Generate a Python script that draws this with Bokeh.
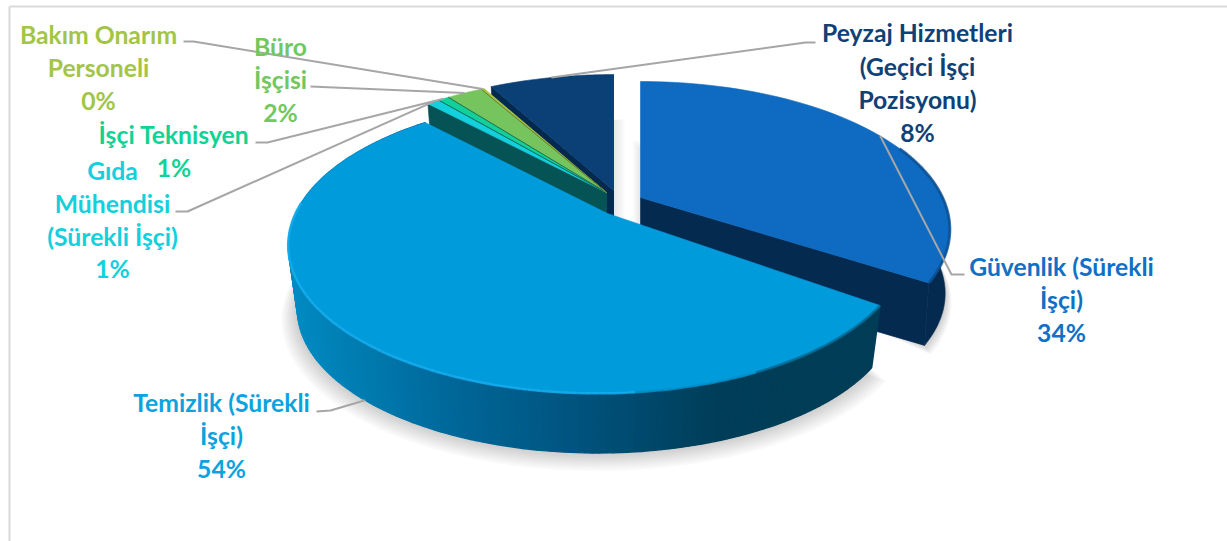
import math
from bokeh.plotting import figure
from bokeh.models import Range1d
from bokeh.core.properties import value
from bokeh.embed import file_html
from bokeh.resources import INLINE

# ---- data -------------------------------------------------------------
categories = ["Güvenlik (Sürekli İşçi)", "Temizlik (Sürekli İşçi)", "Gıda Mühendisi (Sürekli İşçi)",
              "İşçi Teknisyen", "Büro İşçisi", "Bakım Onarım Personeli", "Peyzaj Hizmetleri (Geçici İşçi Pozisyonu)"]
shares = [34, 54, 0.8, 0.7, 2.3, 0.2, 8]
label_lines = [
    ["Güvenlik (Sürekli", "İşçi)", "34%"],
    ["Temizlik (Sürekli", "İşçi)", "54%"],
    ["Gıda", "Mühendisi", "(Sürekli İşçi)", "1%"],
    ["İşçi Teknisyen", "1%"],
    ["Büro", "İşçisi", "2%"],
    ["Bakım Onarım", "Personeli", "0%"],
    ["Peyzaj Hizmetleri", "(Geçici İşçi", "Pozisyonu)", "8%"],
]

# ---- styles / layout ---------------------------------------------------
face = ["#0e6bc1", "#009bdb", "#14cfdc", "#13d09a", "#76c45e", "#a5c249", "#0a4076"]
wall = ["#052a50", "#003d56", "#065355", "#065355", "#0a5a50", "#5d6a1f", "#03294f"]
text_col = ["#1070c6", "#0ba2de", "#13d0dc", "#12d296", "#70c85f", "#a2c548", "#0f4176"]
apex = [(640, 197), (607, 213), (606, 192), (606, 192), (606, 192), (606, 192), (613, 190)]
rim_cx = [640, 597, 606, 606, 606, 606, 613]
view_adjust = [(0, 0), (2.5, 1.7), (0, 0), (0, 0), (0, 0), (0, 0), (0, 0)]  # perspective of the pulled-out slices
label_x = [1061, 221, 112, 173.5, 280, 98, 917]
label_y = [[266, 299, 332], [402, 435, 468], [170, 203, 236, 268], [134, 167],
           [46, 79, 112], [34, 67, 100], [32, 66, 99, 132]]
elbows = [[(951, 274), (964, 274)], [(330, 410), (316, 411)], [(187, 211), (175, 211)],
          [(267, 142), (255, 142)], [(310, 86)], [(193, 41), (183, 41)], [(805, 42), (815, 42)]]
R, S, K = 302.0, 141.0, 0.216   # perspective of the disc
H, SHRINK = 65.0, 0.97          # wall height, bottom-rim shrink
GUV_SHRINK = 0.985
STOPS = [(288, (0, 140, 195)), (450, (0, 104, 154)), (600, (0, 80, 121)), (720, (0, 61, 88)), (900, (0, 61, 86))]
FONT = value("Lato")

p = figure(width=1227, height=541, toolbar_location=None, output_backend="svg",
           x_range=Range1d(0, 1227), y_range=Range1d(541, 0),
           min_border=0, background_fill_color="white", border_fill_color="white")
p.axis.visible = False
p.grid.visible = False
p.outline_line_color = None


def hexc(c):
    return "#%02x%02x%02x" % tuple(int(round(v)) for v in c)


def grad(x):
    if x <= STOPS[0][0]:
        return hexc(STOPS[0][1])
    for (x0, c0), (x1, c1) in zip(STOPS, STOPS[1:]):
        if x <= x1:
            t = (x - x0) / (x1 - x0)
            return hexc([a + (b - a) * t for a, b in zip(c0, c1)])
    return hexc(STOPS[-1][1])


def rim(theta, i, bottom=False):
    a = math.radians(theta)
    X, Y = math.sin(a), -math.cos(a)
    w = 1 - K * Y
    dx, dy = R * X / w, S * Y / w
    if bottom:
        sh = GUV_SHRINK if i == 0 else SHRINK
        return rim_cx[i] + sh * dx, apex[i][1] + SHRINK * dy + H
    return rim_cx[i] + dx, apex[i][1] + dy


def arc(t0, t1, i, bottom=False, n=60):
    pts = [rim(t0 + (t1 - t0) * k / n, i, bottom) for k in range(n + 1)]
    return [q[0] for q in pts], [q[1] for q in pts]


def wedge(i):
    xs, ys = arc(span[i][0], span[i][1], i)
    return [apex[i][0]] + xs, [apex[i][1]] + ys


def radial_wall(i, theta):
    x0, y0 = rim(theta, i)
    x1, y1 = rim(theta, i, True)
    ax, ay = apex[i]
    return [ax, x0, x1, ax], [ay, y0, y1, ay + H]


def draw(xs, ys, c, alpha=1.0, line=True):
    p.patch(xs, ys, fill_color=c, fill_alpha=alpha,
            line_color=c if line else None, line_alpha=alpha, line_width=0.6)


# angular spans, clockwise from 12 o'clock
total = sum(shares)
span, acc = [], 0.0
for s, adj in zip(shares, view_adjust):
    span.append((acc / total * 360 + adj[0], (acc + s) / total * 360 + adj[1]))
    acc += s

# frame
p.line([9, 9], [541, 6], line_color="#d9d9d9", line_width=2)
p.line([9, 1227], [6, 6], line_color="#d9d9d9", line_width=2)

# shadows
for k in range(1, 9):
    g = 2.0 * k
    bx, by = arc(span[1][0], span[1][1], 1, True)
    cx, cy = rim_cx[1], apex[1][1] + H
    xs = [cx + (x - cx) * (1 + g / 300) for x in bx]
    ys = [cy + (y - cy) * (1 + g / 300) + 1.1 * k for y in by]
    draw(xs + [cx], ys + [cy], "#000000", 0.022, False)
    bx, by = arc(60, span[0][1], 0, True)
    xs = [x + 0.8 * k for x in bx]
    ys = [y + 1.2 * k for y in by]
    draw(xs + [700], ys + [250], "#000000", 0.022, False)
    wx, wy = wedge(6)
    draw([x + 1.5 * k for x in wx], [y + 45 for y in wy], "#000000", 0.012, False)
    wx, wy = arc(0, 20, 0)
    draw([640 - 1.0 * k] + [x - 1.0 * k for x in wx[:2]] + [700], [230, 140, 140, 230], "#000000", 0.012, False)

# Güvenlik
xt, yt = arc(70, span[0][1], 0)
xb, yb = arc(70, span[0][1], 0, True)
draw(xt + xb[::-1], yt + yb[::-1], wall[0])
wx, wy = radial_wall(0, span[0][1])
draw(wx, wy, wall[0])
fx, fy = wedge(0)
draw(fx, fy, face[0])
lx, ly = arc(68, span[0][1], 0)
p.line(lx, ly, line_color="#0a4f92", line_width=3, line_alpha=0.8)

# Peyzaj
wx, wy = radial_wall(6, span[6][0])
draw(wx, wy, wall[6])
wx, wy = radial_wall(6, 360)
draw(wx, wy, wall[6])
fx, fy = wedge(6)
draw(fx, fy, face[6])

# small slices
for i in (5, 4, 3, 2):
    wx, wy = radial_wall(i, span[i][0])
    draw(wx, wy, wall[i])
for i in (2, 3, 4, 5):
    fx, fy = wedge(i)
    draw(fx, fy, face[i])
    x0, y0 = rim(span[i][1], i)
    if i > 2:
        x1, y1 = rim(span[i][0], i)
        p.line([apex[i][0], x1], [apex[i][1], y1], line_color=wall[i], line_width=1, line_alpha=0.8)

# Temizlik: graded outer wall, built from thin strips
n = 180
t0, t1 = span[1]
sx, sy, sc = [], [], []
for k in range(n):
    a, b = t0 + (t1 - t0) * k / n, t0 + (t1 - t0) * (k + 1) / n
    xa, ya = rim(a, 1)
    xb_, yb_ = rim(b, 1)
    xc, yc = rim(b, 1, True)
    xd, yd = rim(a, 1, True)
    sx.append([xa, xb_, xc, xd])
    sy.append([ya, yb_, yc, yd])
    sc.append(grad((xa + xd) / 2))
p.patches(sx, sy, fill_color=sc, line_color=sc, line_width=1.4)
fx, fy = wedge(1)
draw(fx, fy, face[1])
# bright / dark bevel on the rim of the face
ex, ey, ec = [], [], []
for k in range(n):
    a, b = t0 + (t1 - t0) * k / n, t0 + (t1 - t0) * (k + 1) / n
    xa, ya = rim(a, 1)
    xb_, yb_ = rim(b, 1)
    if xa > 760:
        c = "#066a92"
    elif xa > 640:
        c = "#0090cc"
    else:
        c = "#18aef0"
    if b < 275:
        ex.append([xa, xb_])
        ey.append([ya, yb_])
        ec.append(c)
p.multi_line(ex, ey, line_color=ec, line_width=2.5, line_alpha=0.85)

# leader lines: rim anchor computed from the share, then the elbow
for i in range(7):
    mid = sum(span[i]) / 2
    ax, ay = rim(mid, i, i == 1)
    pts = [(ax, ay)] + elbows[i]
    p.line([q[0] for q in pts], [q[1] for q in pts], line_color="#a6a6a6", line_width=2)

# labels
for i, lines in enumerate(label_lines):
    p.text([label_x[i]] * len(lines), label_y[i], text=lines, text_color=text_col[i],
           text_font=FONT, text_font_style="bold", text_font_size="24.7px",
           text_align="center", text_baseline="middle")

open("out.html", "w").write(file_html(p, INLINE))
